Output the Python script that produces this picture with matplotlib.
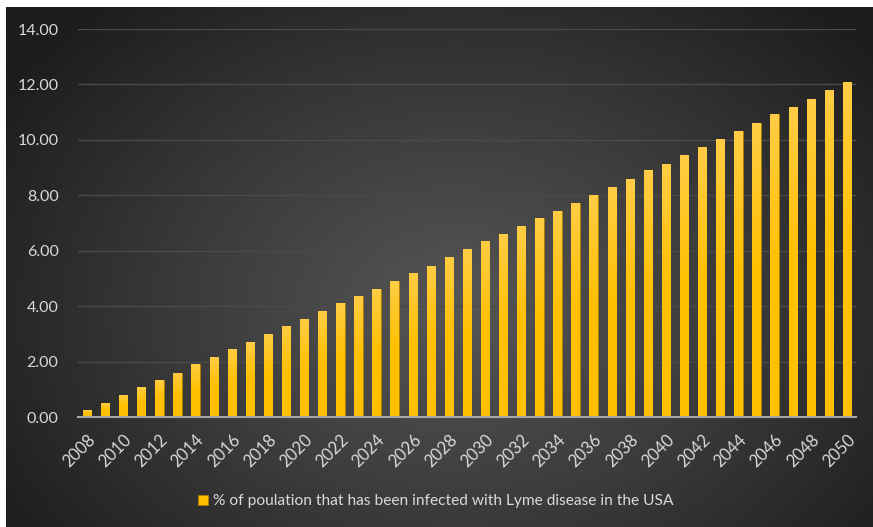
import numpy as np
import matplotlib
matplotlib.use("Agg")
import matplotlib.pyplot as plt
from matplotlib.colors import LinearSegmentedColormap
from matplotlib.patches import Patch

years = list(range(2008, 2051))
values = [0.25, 0.52, 0.82, 1.08, 1.35, 1.61, 1.92, 2.18, 2.46, 2.72,
          3.02, 3.29, 3.55, 3.85, 4.12, 4.38, 4.64, 4.93, 5.20, 5.47,
          5.78, 6.05, 6.36, 6.62, 6.88, 7.18, 7.44, 7.74, 8.02, 8.32,
          8.59, 8.90, 9.15, 9.47, 9.73, 10.05, 10.31, 10.61, 10.93, 11.19,
          11.49, 11.79, 12.09]
tick_labels = [str(y) if (y - 2008) % 2 == 0 else "" for y in years]
legend_label = "% of poulation that has been infected with Lyme disease in the USA"

W, H = 873, 527
fig = plt.figure(figsize=(W / 100, H / 100), dpi=100)
fig.patch.set_facecolor("white")

# radial gradient background
bg = fig.add_axes([6 / W, 0, (W - 6) / W, (H - 6.5) / H])
bg.set_axis_off()
ny, nx = 260, 430
yy, xx = np.mgrid[0:ny, 0:nx]
cx, cy = nx * 0.52, ny * 0.58
r = np.sqrt(((xx - cx) / (nx * 0.62)) ** 2 + ((yy - cy) / (ny * 0.78)) ** 2)
r = np.clip(r, 0, 1)
bgcmap = LinearSegmentedColormap.from_list("bg", ["#565656", "#3b3b3b", "#1d1d1d"])
bg.imshow(r, cmap=bgcmap, aspect="auto", extent=[0, 1, 0, 1], origin="upper",
          interpolation="bicubic")
bg.set_xlim(0, 1)
bg.set_ylim(0, 1)

ax = fig.add_axes([78 / W, (H - 417.3) / H, (856 - 78) / W, (417.3 - 29) / H])
ax.set_facecolor("none")
x = np.arange(len(years))
bars = ax.bar(x, values, width=0.46, color="#ffc000", edgecolor="#b07d00",
              linewidth=0.6, zorder=3)

barcmap = LinearSegmentedColormap.from_list("bar", ["#ffc000", "#ffc000", "#ffcd45"])
grad = np.linspace(0, 1, 100).reshape(-1, 1)
for b in bars:
    bx, bw, bh = b.get_x(), b.get_width(), b.get_height()
    im = ax.imshow(grad, cmap=barcmap, aspect="auto", origin="lower",
                   extent=[bx, bx + bw, 0, bh], zorder=3.5)
    im.set_clip_path(b)

ax.set_xlim(-0.5, len(years) - 0.5)
ax.set_ylim(0, 14)
ax.set_yticks(np.arange(0, 14.01, 2))
ax.set_yticklabels([f"{v:.2f}" for v in np.arange(0, 14.01, 2)])
ax.set_xticks(x)
ax.set_xticklabels(tick_labels, rotation=45, ha="right", rotation_mode="anchor")

for s in ["top", "right", "left"]:
    ax.spines[s].set_visible(False)
ax.spines["bottom"].set_color("#a6a6a6")
ax.spines["bottom"].set_linewidth(1.5)
ax.spines["bottom"].set_zorder(5)
ax.grid(axis="y", color="#4a4a4a", linewidth=1.0, zorder=0)
ax.set_axisbelow(True)
ax.tick_params(axis="both", length=0, colors="#d9d9d9")
ax.tick_params(axis="y", pad=14, labelsize=11.5)
ax.tick_params(axis="x", pad=10, labelsize=12)
for lbl in ax.get_xticklabels() + ax.get_yticklabels():
    lbl.set_family("Lato")
    lbl.set_color("#d9d9d9")

handle = Patch(facecolor="#ffc000", edgecolor="#b07d00", linewidth=0.6)
leg = fig.legend([handle], [legend_label], loc="center",
                 bbox_to_anchor=(436 / W, (H - 501.5) / H), frameon=False,
                 prop={"family": "Lato", "size": 11.2}, handlelength=0.65,
                 handleheight=0.65, handletextpad=0.3)
for t in leg.get_texts():
    t.set_color("#d9d9d9")

fig.savefig("out.png", dpi=100, facecolor=fig.get_facecolor())
